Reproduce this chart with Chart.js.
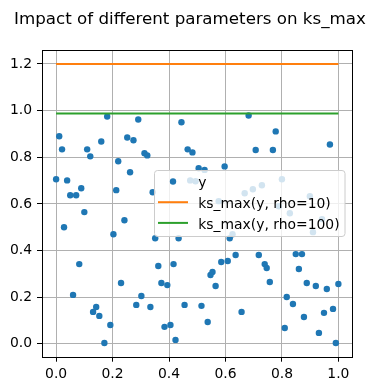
<!DOCTYPE html>
<html>
<head>
<meta charset="utf-8">
<script src="https://cdn.jsdelivr.net/npm/chart.js@4.4.1/dist/chart.umd.min.js"></script>
<style>
  html, body { margin: 0; padding: 0; background: #fff; }
  canvas { display: block; }
</style>
</head>
<body>
<canvas id="chart" width="377" height="391"></canvas>
<script>
// values
const xs = [
  0.000, 0.011, 0.021, 0.028, 0.039, 0.050, 0.060, 0.071, 0.082, 0.089,
  0.100, 0.110, 0.121, 0.131, 0.142, 0.153, 0.160, 0.171, 0.181, 0.192,
  0.203, 0.213, 0.220, 0.230, 0.242, 0.252, 0.262, 0.274, 0.284, 0.291,
  0.302, 0.313, 0.323, 0.334, 0.342, 0.351, 0.362, 0.373, 0.384, 0.394,
  0.405, 0.416, 0.423, 0.434, 0.444, 0.455, 0.466, 0.475, 0.483, 0.494,
  0.505, 0.515, 0.526, 0.537, 0.547, 0.554, 0.565, 0.576, 0.585, 0.597,
  0.608, 0.615, 0.625, 0.636, 0.657, 0.668, 0.682, 0.697, 0.707, 0.718,
  0.729, 0.739, 0.746, 0.757, 0.768, 0.778, 0.789, 0.800, 0.810, 0.817,
  0.828, 0.839, 0.849, 0.860, 0.871, 0.878, 0.888, 0.899, 0.910, 0.920,
  0.931, 0.942, 0.949, 0.959, 0.970, 0.981, 0.991, 1.000
];
const ys = [
  0.706, 0.890, 0.834, 0.500, 0.701, 0.637, 0.210, 0.637, 0.342, 0.667,
  0.565, 0.834, 0.804, 0.137, 0.158, 0.120, 0.868, 0.004, 0.975, 0.081,
  0.470, 0.659, 0.783, 0.261, 0.530, 0.885, 0.736, 0.873, 0.167, 0.962,
  0.205, 0.817, 0.808, 0.158, 0.650, 0.453, 0.334, 0.261, 0.073, 0.252,
  0.081, 0.342, 0.017, 0.453, 0.950, 0.167, 0.834, 0.701, 0.821, 0.697,
  0.753, 0.163, 0.746, 0.094, 0.295, 0.308, 0.248, 0.612, 0.351, 0.761,
  0.355, 0.453, 0.470, 0.381, 0.137, 0.646, 0.979, 0.663, 0.831, 0.381,
  0.680, 0.342, 0.325, 0.265, 0.831, 0.911, 0.590, 0.706, 0.068, 0.201,
  0.560, 0.171, 0.385, 0.321, 0.385, 0.115, 0.261, 0.633, 0.479, 0.248,
  0.047, 0.535, 0.133, 0.235, 0.855, 0.150, 0.004, 0.257
];
const lineXs = [0, 1];
const rho10Level = 1.2;
const rho100Level = 0.988;
const xTicks = [0, 0.2, 0.4, 0.6, 0.8, 1.0];
const yTicks = [0, 0.2, 0.4, 0.6, 0.8, 1.0, 1.2];
const seriesLabels = ['y', 'ks_max(y, rho=10)', 'ks_max(y, rho=100)'];
const seriesColors = ['#1f77b4', '#ff7f0e', '#2ca02c'];
const chartTitle = 'Impact of different parameters on ks_max';

const FONT = '"DejaVu Sans", Verdana, sans-serif';

// title like a matplotlib suptitle, centred on the figure
const titlePlugin = {
  id: 'figTitle',
  afterDraw(chart) {
    const ctx = chart.ctx;
    ctx.save();
    ctx.font = '16.7px ' + FONT;
    ctx.fillStyle = '#000';
    ctx.textAlign = 'center';
    ctx.textBaseline = 'alphabetic';
    ctx.fillText(chartTitle, 190, 24);
    ctx.restore();
  }
};

// black box round the plot area
const framePlugin = {
  id: 'frame',
  afterDatasetsDraw(chart) {
    const a = chart.chartArea, ctx = chart.ctx;
    ctx.save();
    ctx.strokeStyle = '#000';
    ctx.lineWidth = 1;
    ctx.strokeRect(Math.round(a.left) + 0.5, Math.round(a.top) + 0.5,
      Math.round(a.right - a.left) - 1, Math.round(a.bottom - a.top));
    ctx.restore();
  }
};

// legend box drawn the matplotlib way
const legendPlugin = {
  id: 'mplLegend',
  afterDraw(chart) {
    const ctx = chart.ctx;
    const x0 = 154.5, y0 = 170.5, w = 190.5, h = 66, r = 3;
    ctx.save();
    ctx.beginPath();
    ctx.roundRect(x0, y0, w, h, r);
    ctx.fillStyle = 'rgba(255,255,255,0.8)';
    ctx.fill();
    ctx.strokeStyle = '#cccccc';
    ctx.lineWidth = 1;
    ctx.stroke();
    ctx.font = '13.9px ' + FONT;
    ctx.fillStyle = '#000';
    ctx.textBaseline = 'alphabetic';
    chart.data.datasets.forEach((ds, i) => {
      const rowY = 181.5 + i * 20.7;
      if (i === 0) {
        ctx.beginPath();
        ctx.arc(173, rowY, 3.2, 0, Math.PI * 2);
        ctx.fillStyle = ds.backgroundColor;
        ctx.fill();
      } else {
        ctx.beginPath();
        ctx.moveTo(158, rowY);
        ctx.lineTo(188, rowY);
        ctx.strokeStyle = ds.borderColor;
        ctx.lineWidth = 2;
        ctx.stroke();
      }
      ctx.fillStyle = '#000';
      ctx.fillText(ds.label, 198.3, rowY + 5.7);
    });
    ctx.restore();
  }
};

new Chart(document.getElementById('chart'), {
  type: 'scatter',
  data: {
    datasets: [
      {
        label: seriesLabels[0],
        data: xs.map((x, i) => ({ x: x, y: ys[i] })),
        backgroundColor: seriesColors[0],
        borderWidth: 0,
        pointRadius: 3.2,
        order: 3
      },
      {
        label: seriesLabels[1],
        data: lineXs.map(x => ({ x: x, y: rho10Level })),
        showLine: true,
        borderColor: seriesColors[1],
        backgroundColor: seriesColors[1],
        borderWidth: 2,
        pointRadius: 0,
        order: 2
      },
      {
        label: seriesLabels[2],
        data: lineXs.map(x => ({ x: x, y: rho100Level })),
        showLine: true,
        borderColor: seriesColors[2],
        backgroundColor: seriesColors[2],
        borderWidth: 2,
        pointRadius: 0,
        order: 1
      }
    ]
  },
  options: {
    responsive: false,
    animation: false,
    devicePixelRatio: 1,
    layout: { padding: { top: 50, right: 24.5, left: 0, bottom: 0 } },
    plugins: {
      legend: { display: false },
      title: { display: false },
      tooltip: { enabled: false }
    },
    scales: {
      x: {
        type: 'linear',
        min: -0.05,
        max: 1.05,
        afterBuildTicks: s => { s.ticks = xTicks.map(v => ({ value: v })); },
        afterFit: s => { s.height = 34.3; },
        grid: { color: '#b0b0b0', lineWidth: 1, tickColor: '#000', tickLength: 5, tickWidth: 1 },
        border: { display: false },
        ticks: {
          color: '#000',
          padding: 4,
          maxRotation: 0,
          font: { family: FONT, size: 13.9 },
          callback: v => v.toFixed(1)
        }
      },
      y: {
        type: 'linear',
        min: -0.055,
        max: 1.26,
        afterBuildTicks: s => { s.ticks = yTicks.map(v => ({ value: v })); },
        afterFit: s => { s.width = 42; },
        grid: { color: '#b0b0b0', lineWidth: 1, tickColor: '#000', tickLength: 5, tickWidth: 1 },
        border: { display: false },
        ticks: {
          color: '#000',
          padding: 5,
          font: { family: FONT, size: 13.9 },
          callback: v => v.toFixed(1)
        }
      }
    }
  },
  plugins: [framePlugin, legendPlugin, titlePlugin]
});
</script>
</body>
</html>
